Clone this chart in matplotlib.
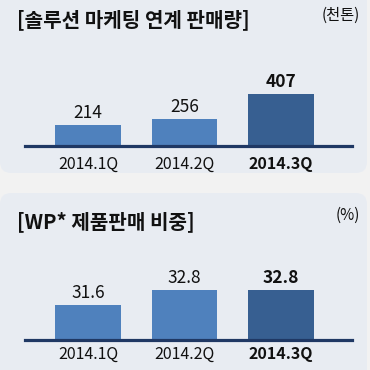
import matplotlib
matplotlib.use("Agg")
import matplotlib.pyplot as plt
from matplotlib.patches import FancyBboxPatch

plt.rcParams['font.family'] = ['Noto Sans CJK KR', 'DejaVu Sans']

categories = ['2014.1Q', '2014.2Q', '2014.3Q']
sales = [214, 256, 407]
share = [31.6, 32.8, 32.8]
title1 = '[솔루션 마케팅 연계 판매량]'
unit1 = '(천톤)'
title2 = '[WP* 제품판매 비중]'
unit2 = '(%)'

W = H = 370
fig = plt.figure(figsize=(3.7, 3.7), dpi=100)
fig.patch.set_facecolor('#f2f2f2')

panel_col = '#e8ecf2'
bar_col = '#4f81bd'
bar_dark = '#375f91'
base_col = '#1f3864'

def fx(px):
    return px / W

def fy(py):
    return 1 - py / H

# panels
for (y0, y1) in [(-10, 173), (193, 380)]:
    p = FancyBboxPatch((fx(0), fy(y1)), fx(367), (y1 - y0) / H,
                       boxstyle="round,pad=0,rounding_size=0.03",
                       transform=fig.transFigure, facecolor=panel_col,
                       edgecolor='none', zorder=-5)
    fig.patches.append(p)

def make_panel(vals, base_py, top_py, vmin, scale, fmt, title, unit, title_py, unit_py, pad):
    left, right = 25, 352
    ax = fig.add_axes([fx(left), fy(base_py), fx(right - left), (base_py - top_py) / H])
    ax.set_zorder(2)
    ax.set_facecolor('none')
    x = list(range(len(vals)))
    unit_px = 96.5
    ax.set_xlim(-(88 - left) / unit_px, (right - 88) / unit_px)
    ax.set_ylim(vmin, vmin + (base_py - top_py) / scale)
    colors = [bar_col, bar_col, bar_dark]
    ax.bar(x, vals, width=66 / unit_px, color=colors, zorder=2)
    ax.axhline(vmin, color=base_col, lw=2.3, zorder=3, clip_on=False)
    for i, v in enumerate(vals):
        bold = (i == len(vals) - 1)
        ax.annotate(fmt.format(v), (i, v), xytext=(0, 5), textcoords='offset points',
                    ha='center', va='baseline', fontsize=12.5,
                    fontweight='bold' if bold else 'normal', color='#111111')
    ax.set_xticks(x)
    ax.set_xticklabels(categories, fontsize=11.5, color='#111111')
    for i, lab in enumerate(ax.get_xticklabels()):
        if i == len(vals) - 1:
            lab.set_fontweight('bold')
    ax.tick_params(axis='x', length=0, pad=pad)
    ax.set_yticks([])
    for s in ax.spines.values():
        s.set_visible(False)
    fig.text(fx(17), fy(title_py), title, fontsize=14.5, fontweight='bold',
             ha='left', va='center', color='#111111', zorder=3)
    fig.text(fx(360), fy(unit_py), unit, fontsize=11, ha='right', va='center',
             color='#111111', zorder=3)
    return ax

make_panel(sales, 145.5, 40, 90, 0.162, '{:d}', title1, unit1, 20, 15, 7.5)
make_panel(share, 339.5, 240, 28.8, 12.5, '{:.1f}', title2, unit2, 222, 215, 4.5)

fig.savefig('out.png', dpi=100, facecolor=fig.get_facecolor())
